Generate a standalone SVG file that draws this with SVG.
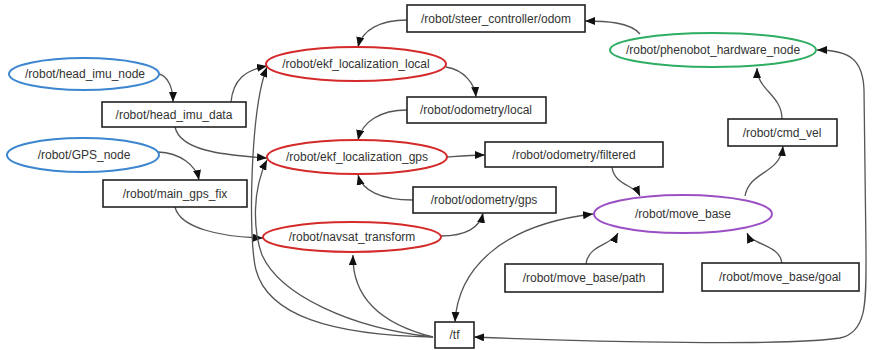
<svg xmlns="http://www.w3.org/2000/svg" width="872" height="350" viewBox="0 0 872 350">
  <style>
    text { font-family: "Liberation Sans", Arial, sans-serif; font-size: 12px; fill: #333; text-anchor: middle; dominant-baseline: central; }
    .topic { fill: #fff; stroke: #222; stroke-width: 1.6; }
    .node { fill: #fff; stroke-width: 2; }
    .blue { stroke: #3c86cf; }
    .red { stroke: #d42a2a; }
    .green { stroke: #2fae62; }
    .purple { stroke: #9b4fc4; }
    .edge { fill: none; stroke: #555; stroke-width: 1.3; marker-end: url(#arrow); }
    .both { marker-start: url(#arrow); }
  </style>
  <defs>
    <marker id="arrow" markerUnits="userSpaceOnUse" markerWidth="11" markerHeight="9" refX="10" refY="4" orient="auto-start-reverse">
      <path d="M0,0 L10,4 L0,8 z" fill="#111"/>
    </marker>
  </defs>
  <rect width="872" height="350" fill="#fff"/>

  <g id="connectors">
    <path class="edge" d="M159,74 C168,76 173,88 173,102"/>
    <path class="edge" d="M231,102 C233,80 245,70 267,66"/>
    <path class="edge" d="M175,127 C180,150 220,155 267,158"/>
    <path class="edge" d="M158,152 C180,153 196,165 199,180"/>
    <path class="edge" d="M175,207 C180,228 220,237 263,238"/>
    <path class="edge" d="M407,20 C380,20 362,30 358,47"/>
    <path class="edge" d="M446,67 C465,70 475,85 476,97"/>
    <path class="edge" d="M407,110 C380,110 362,122 358,140"/>
    <path class="edge" d="M447,157 C460,156 470,155 485,155"/>
    <path class="edge" d="M413,200 C380,200 362,190 358,175"/>
    <path class="edge" d="M441,236 C465,236 480,228 483,213"/>
    <path class="edge" d="M612,167 C614,185 635,185 640,196"/>
    <path class="edge" d="M745,196 C750,170 780,175 783,146"/>
    <path class="edge" d="M782,119 C782,95 757,90 757,68"/>
    <path class="edge" d="M640,34 C630,22 605,21 585,21"/>
    <path class="edge" d="M586,264 C588,245 612,245 618,233"/>
    <path class="edge" d="M782,263 C780,245 752,245 747,233"/>
    <path class="edge both" d="M455,322 C458,270 500,225 593,214"/>
    <path class="edge both" d="M474,337 C600,342 790,346 840,338 C868,332 866,300 866,250 L864,90 C863,60 850,50 817,50"/>
    <path class="edge" d="M433,337 C330,335 268,315 256,270 C248,240 250,110 267,67"/>
    <path class="edge" d="M433,337 C350,328 280,295 262,255 C253,230 252,190 267,160"/>
    <path class="edge" d="M433,337 C385,325 352,300 353,255"/>
  </g>

  <g id="head_imu_node"><ellipse class="node blue" cx="84" cy="74" rx="75" ry="16"/><text x="85" y="74">/robot/head_imu_node</text></g>
  <g id="head_imu_data"><rect class="topic" x="102" y="102" width="144" height="25"/><text x="174" y="114.5">/robot/head_imu_data</text></g>
  <g id="GPS_node"><ellipse class="node blue" cx="83" cy="155" rx="76" ry="17"/><text x="84" y="155">/robot/GPS_node</text></g>
  <g id="main_gps_fix"><rect class="topic" x="103" y="180" width="144" height="27"/><text x="175" y="193.5">/robot/main_gps_fix</text></g>
  <g id="steer_controller_odom"><rect class="topic" x="407" y="5" width="178" height="27"/><text x="496" y="18.5">/robot/steer_controller/odom</text></g>
  <g id="ekf_localization_local"><ellipse class="node red" cx="356" cy="64" rx="90" ry="17"/><text x="356" y="64">/robot/ekf_localization_local</text></g>
  <g id="odometry_local"><rect class="topic" x="407" y="97" width="139" height="26"/><text x="476" y="110">/robot/odometry/local</text></g>
  <g id="ekf_localization_gps"><ellipse class="node red" cx="357" cy="157" rx="90" ry="17"/><text x="357" y="157">/robot/ekf_localization_gps</text></g>
  <g id="odometry_filtered"><rect class="topic" x="485" y="142" width="178" height="25"/><text x="574" y="154.5">/robot/odometry/filtered</text></g>
  <g id="odometry_gps"><rect class="topic" x="413" y="187" width="143" height="26"/><text x="484" y="200">/robot/odometry/gps</text></g>
  <g id="navsat_transform"><ellipse class="node red" cx="352" cy="237" rx="89" ry="15"/><text x="352" y="237">/robot/navsat_transform</text></g>
  <g id="phenobot_hardware_node"><ellipse class="node green" cx="713" cy="50" rx="103" ry="17"/><text x="713" y="50">/robot/phenobot_hardware_node</text></g>
  <g id="cmd_vel"><rect class="topic" x="728" y="119" width="109" height="27"/><text x="782" y="132.5">/robot/cmd_vel</text></g>
  <g id="move_base"><ellipse class="node purple" cx="683" cy="214" rx="89" ry="19"/><text x="683" y="214">/robot/move_base</text></g>
  <g id="move_base_path"><rect class="topic" x="505" y="264" width="158" height="28"/><text x="584" y="278">/robot/move_base/path</text></g>
  <g id="move_base_goal"><rect class="topic" x="702" y="263" width="157" height="28"/><text x="780" y="277">/robot/move_base/goal</text></g>
  <g id="tf"><rect class="topic" x="435" y="322" width="39" height="26"/><text x="454.5" y="335">/tf</text></g>
</svg>
